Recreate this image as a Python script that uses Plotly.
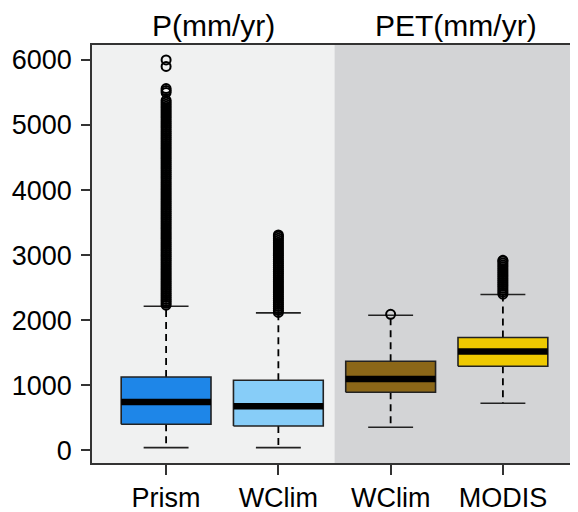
import plotly.graph_objects as go

categories = ["Prism", "WClim", "WClim", "MODIS"]
groups = ["P(mm/yr)", "PET(mm/yr)"]
lower_whisker = [41, 41, 354, 723]
q1 = [400, 374, 892, 1292]
median = [743, 677, 1097, 1518]
q3 = [1128, 1077, 1369, 1733]
upper_whisker = [2215, 2113, 2077, 2395]
box_colors = ["#1E86E8", "#87CDF8", "#8B6718", "#EEC900"]

outliers_prism = [2230, 2260, 2290, 2320, 2350, 2380, 2410, 2440, 2470, 2500, 2530,
                  2560, 2590, 2620, 2650, 2680, 2710, 2740, 2770, 2800, 2830, 2860,
                  2890, 2920, 2950, 2980, 3010, 3040, 3070, 3100, 3130, 3160, 3190,
                  3220, 3250, 3280, 3310, 3340, 3370, 3400, 3430, 3460, 3490, 3520,
                  3550, 3580, 3610, 3640, 3670, 3700, 3730, 3760, 3790, 3820, 3850,
                  3880, 3910, 3940, 3970, 4000, 4030, 4060, 4090, 4120, 4150, 4180,
                  4210, 4240, 4270, 4300, 4330, 4360, 4390, 4420, 4450, 4480, 4510,
                  4540, 4570, 4600, 4630, 4660, 4690, 4720, 4750, 4780, 4810, 4840,
                  4870, 4900, 4930, 4960, 4990, 5020, 5050, 5080, 5110, 5140, 5170,
                  5200, 5230, 5260, 5290, 5320, 5350, 5380, 5500, 5530, 5560,
                  5900, 6000]
outliers_wclim_p = [2120, 2150, 2180, 2210, 2240, 2270, 2300, 2330, 2360, 2390, 2420,
                    2450, 2480, 2510, 2540, 2570, 2600, 2630, 2660, 2690, 2720, 2750,
                    2780, 2810, 2840, 2870, 2900, 2930, 2960, 2990, 3020, 3050, 3080,
                    3110, 3140, 3170, 3200, 3230, 3260, 3290, 3310]
outliers_wclim_pet = [2090]
outliers_modis = [2400, 2430, 2460, 2490, 2520, 2550, 2580, 2610, 2640, 2670, 2700,
                  2730, 2760, 2790, 2820, 2850, 2880, 2910, 2920]
outliers = [outliers_prism, outliers_wclim_p, outliers_wclim_pet, outliers_modis]

y_ticks = [0, 1000, 2000, 3000, 4000, 5000, 6000]

FONT = "Liberation Sans, Arial, sans-serif"
half_box = 0.4
half_cap = 0.2
x_lo, x_hi = -0.66, 3.66
split = 1.5

fig = go.Figure()

# background panels
fig.add_shape(type="rect", xref="x", yref="paper", x0=x_lo, x1=split, y0=0, y1=1,
              fillcolor="#F0F1F1", line_width=0, layer="below")
fig.add_shape(type="rect", xref="x", yref="paper", x0=split, x1=x_hi, y0=0, y1=1,
              fillcolor="#D3D4D6", line_width=0, layer="below")

for i in range(len(categories)):
    # whiskers (dashed)
    fig.add_trace(go.Scatter(
        x=[i, i, None, i, i], y=[q3[i], upper_whisker[i], None, q1[i], lower_whisker[i]],
        mode="lines", line=dict(color="black", width=1.8, dash="7px,5px"),
        showlegend=False, hoverinfo="skip"))
    # caps
    fig.add_trace(go.Scatter(
        x=[i - half_cap, i + half_cap, None, i - half_cap, i + half_cap],
        y=[upper_whisker[i], upper_whisker[i], None, lower_whisker[i], lower_whisker[i]],
        mode="lines", line=dict(color="#222222", width=1.6),
        showlegend=False, hoverinfo="skip"))
    # box
    fig.add_trace(go.Scatter(
        x=[i - half_box, i + half_box, i + half_box, i - half_box, i - half_box],
        y=[q1[i], q1[i], q3[i], q3[i], q1[i]],
        mode="lines", fill="toself", fillcolor=box_colors[i],
        line=dict(color="#222222", width=1.6),
        showlegend=False, hoverinfo="skip"))
    # median
    fig.add_trace(go.Scatter(
        x=[i - half_box, i + half_box], y=[median[i], median[i]],
        mode="lines", line=dict(color="black", width=6.5),
        showlegend=False, hoverinfo="skip"))
    # outliers
    fig.add_trace(go.Scatter(
        x=[i] * len(outliers[i]), y=outliers[i], mode="markers",
        marker=dict(symbol="circle-open", size=9, color="black",
                    line=dict(width=2, color="black")),
        showlegend=False, hoverinfo="skip"))

# group titles
fig.add_annotation(x=(x_lo + split) / 2, y=1, xref="x", yref="paper", yanchor="middle",
                   yshift=20, text=groups[0], showarrow=False,
                   font=dict(family=FONT, size=30, color="black"))
fig.add_annotation(x=(split + x_hi) / 2, y=1, xref="x", yref="paper", yanchor="middle",
                   yshift=20, text=groups[1], showarrow=False,
                   font=dict(family=FONT, size=30, color="black"))

# the page body adds an 8px margin, so the figure is sized to fit the window
fig.update_layout(
    width=570, height=504,
    margin=dict(l=84, r=1, t=37, b=49),
    paper_bgcolor="white", plot_bgcolor="white",
    font=dict(family=FONT, size=27, color="black"),
)
fig.update_xaxes(
    range=[x_lo, x_hi], tickvals=list(range(len(categories))), ticktext=categories,
    ticks="outside", ticklen=10, tickwidth=1.5, tickcolor="#333333",
    showline=True, linecolor="#333333", linewidth=1.5, mirror=True,
    showgrid=False, zeroline=False, tickfont=dict(size=27), automargin=False,
    ticklabelstandoff=0,
)
fig.update_yaxes(
    range=[-195, 6230], tickvals=y_ticks, ticks="outside", ticklen=9, tickwidth=1.5,
    tickcolor="#333333", showline=True, linecolor="#333333", linewidth=1.5, mirror=True,
    showgrid=False, zeroline=False, tickfont=dict(size=27), automargin=False,
    ticklabelstandoff=4,
)

fig.write_html("out.html")
